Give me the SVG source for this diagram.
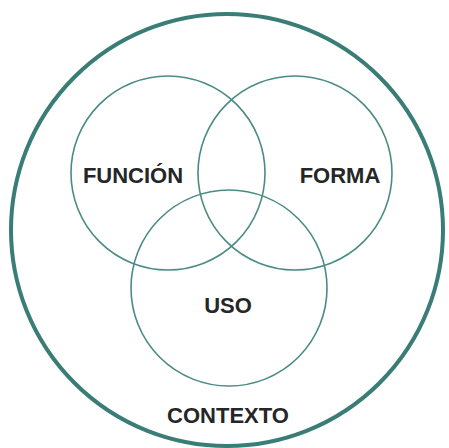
<svg xmlns="http://www.w3.org/2000/svg" width="449" height="448" viewBox="0 0 449 448">
<style>
.c{fill:none;stroke:#4a8b85;stroke-width:1.6}
.outer{fill:none;stroke:#3a7d76;stroke-width:4}
.t{font-family:"Liberation Sans",Arial,sans-serif;font-weight:bold;font-size:22px;fill:#262626;text-anchor:middle}
</style>
<rect width="449" height="448" fill="#fff"/>
<g id="contexto">
<circle class="outer" cx="227" cy="230" r="216"/>
<text class="t" x="228" y="423">CONTEXTO</text>
</g>
<g id="funcion">
<circle class="c" cx="168" cy="173" r="97"/>
<text class="t" x="133" y="183">FUNCIÓN</text>
</g>
<g id="forma">
<circle class="c" cx="295" cy="173" r="97"/>
<text class="t" x="340" y="183">FORMA</text>
</g>
<g id="uso">
<circle class="c" cx="229" cy="288" r="98"/>
<text class="t" x="228" y="313">USO</text>
</g>
<g id="connectors"></g>
</svg>
